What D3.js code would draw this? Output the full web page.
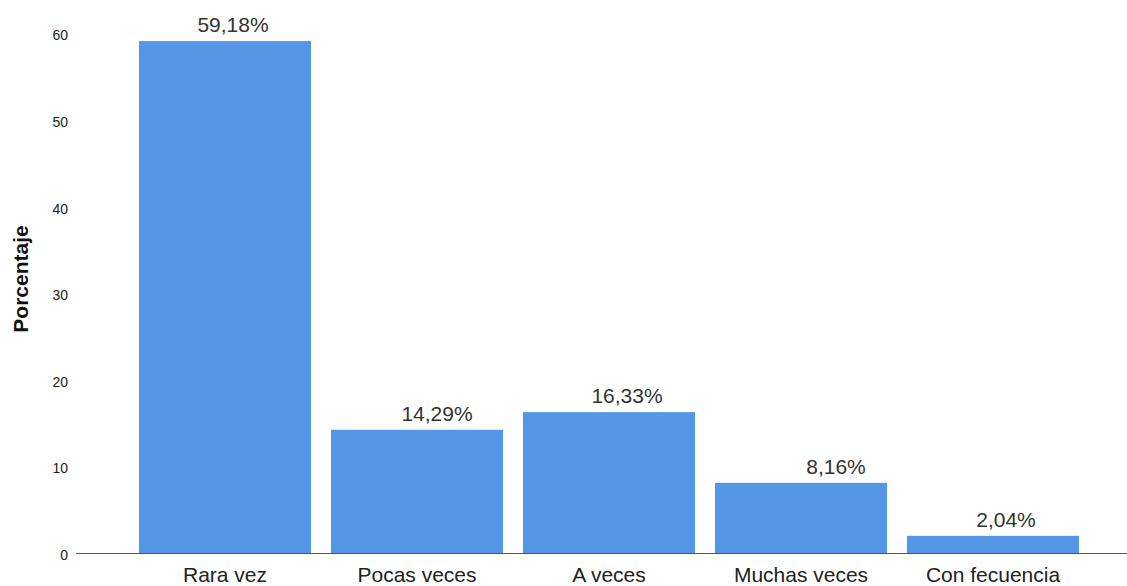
<!DOCTYPE html>
<html>
<head>
<meta charset="utf-8">
<script src="https://cdn.jsdelivr.net/npm/d3@7"></script>
<style>
  html, body { margin: 0; padding: 0; background: #fff; }
  svg { display: block; }
  text { font-family: "Liberation Sans", Arial, sans-serif; }
</style>
</head>
<body>
<script>
// ---- data ----
const categories = ["Rara vez", "Pocas veces", "A veces", "Muchas veces", "Con fecuencia"];
const percentages = [59.18, 14.29, 16.33, 8.16, 2.04];
const valueLabels = ["59,18%", "14,29%", "16,33%", "8,16%", "2,04%"];
const yTicks = [0, 10, 20, 30, 40, 50, 60];
const yTitle = "Porcentaje";

// ---- layout (not data) ----
const W = 1127, H = 586;
const labelDx = [8, 20, 18, 35, 13];
const barColor = "#5596E6";

const svg = d3.select("body").append("svg").attr("width", W).attr("height", H);

const x = d3.scaleBand()
  .domain(categories)
  .range([129, 1089])
  .paddingInner(20 / 192)
  .paddingOuter(10 / 192);

const y = d3.scaleLinear().domain([0, 60]).range([553.5, 34]);

// bars
svg.append("g").selectAll("rect")
  .data(categories)
  .join("rect")
  .attr("x", d => x(d))
  .attr("width", x.bandwidth())
  .attr("y", (d, i) => y(percentages[i]))
  .attr("height", (d, i) => y(0) - y(percentages[i]))
  .attr("fill", barColor);

// value labels
svg.append("g").selectAll("text")
  .data(categories)
  .join("text")
  .attr("x", (d, i) => x(d) + x.bandwidth() / 2 + labelDx[i])
  .attr("y", (d, i) => y(percentages[i]) - 9)
  .attr("text-anchor", "middle")
  .attr("font-size", 21)
  .attr("fill", "#333")
  .text((d, i) => valueLabels[i]);

// y axis (labels only)
const yAxis = d3.axisLeft(y).tickValues(yTicks).tickSize(0).tickPadding(0).tickFormat(d3.format("d"));
const gy = svg.append("g").attr("transform", "translate(68,0)").call(yAxis);
gy.select(".domain").remove();
gy.selectAll("text")
  .attr("font-size", 14)
  .attr("fill", "#222")
  .attr("dy", "0.42em")
  .style("font-family", "'Liberation Sans', Arial, sans-serif");

// x axis
const xAxis = d3.axisBottom(x).tickSize(0).tickPadding(0);
const gx = svg.append("g").attr("transform", `translate(0,${y(0)})`).call(xAxis);
gx.select(".domain").remove();
gx.selectAll("text")
  .attr("font-size", 21)
  .attr("fill", "#222")
  .attr("dy", null)
  .attr("y", 28.5)
  .style("font-family", "'Liberation Sans', Arial, sans-serif");

// baseline
svg.append("line")
  .attr("x1", 76).attr("x2", W)
  .attr("y1", y(0)).attr("y2", y(0))
  .attr("stroke", "#555").attr("stroke-width", 1);

// y title
svg.append("text")
  .attr("transform", "translate(28,279) rotate(-90)")
  .attr("text-anchor", "middle")
  .attr("font-size", 21)
  .attr("font-weight", "bold")
  .attr("fill", "#111")
  .text(yTitle);
</script>
</body>
</html>
